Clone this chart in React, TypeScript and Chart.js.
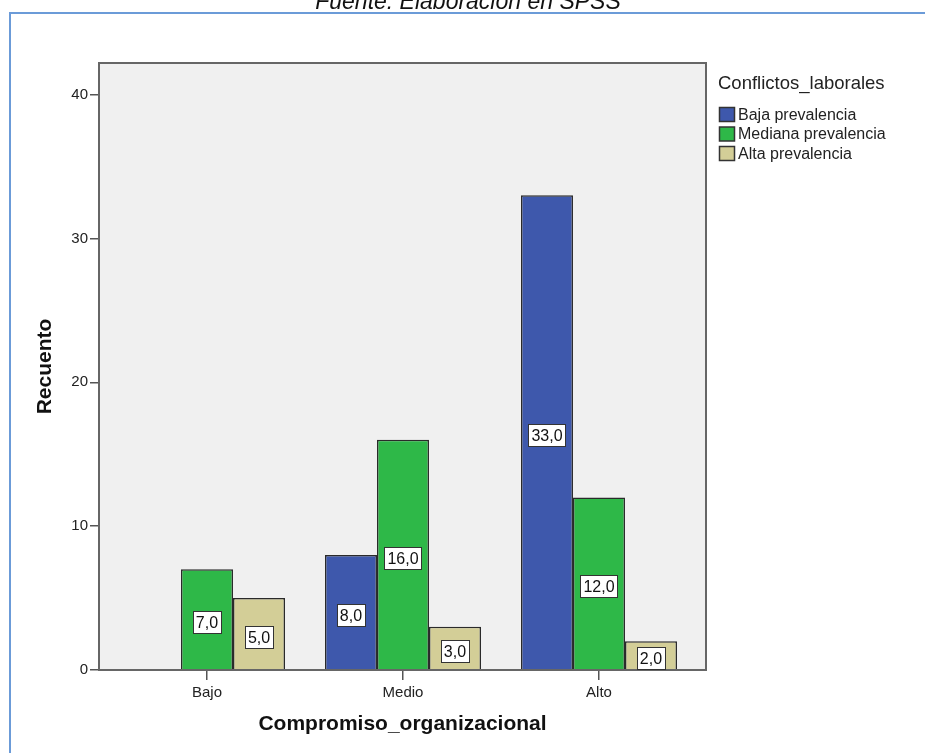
import { useEffect, useRef } from 'react';
import { Chart, registerables } from 'chart.js';

Chart.register(...registerables);

const categories = ['Bajo', 'Medio', 'Alto'];
const seriesNames = ['Baja prevalencia', 'Mediana prevalencia', 'Alta prevalencia'];
const bajaValues = [0, 8, 33];
const medianaValues = [7, 16, 12];
const altaValues = [5, 3, 2];
const yTicks = [0, 10, 20, 30, 40];
const chartTitle = 'Fuente: Elaboración en SPSS';
const legendTitle = 'Conflictos_laborales';
const xTitle = 'Compromiso_organizacional';
const yTitle = 'Recuento';

const seriesColors = ['#3e58ac', '#2eb848', '#d3ce97'];
const FONT = '"Liberation Sans", Arial, Helvetica, sans-serif';

const decorPlugin = {
  id: 'decor',
  beforeDraw(chart: any) {
    const ctx = chart.ctx;
    const a = chart.chartArea;
    ctx.save();
    ctx.fillStyle = '#ffffff';
    ctx.fillRect(0, 0, chart.width, chart.height);
    // outer blue frame
    ctx.strokeStyle = '#6b9bd8';
    ctx.lineWidth = 2;
    ctx.beginPath();
    ctx.moveTo(10, chart.height + 10);
    ctx.lineTo(10, 13);
    ctx.lineTo(chart.width + 10, 13);
    ctx.stroke();
    // caption (cut at top)
    ctx.fillStyle = '#111';
    ctx.font = `italic 23px ${FONT}`;
    ctx.textAlign = 'center';
    ctx.textBaseline = 'alphabetic';
    ctx.fillText(chartTitle, 468, 9);
    // plot background
    ctx.fillStyle = '#f0f0f0';
    ctx.fillRect(a.left, a.top, a.right - a.left, a.bottom - a.top);
    ctx.restore();
  },
  afterDatasetsDraw(chart: any) {
    const ctx = chart.ctx;
    const a = chart.chartArea;
    ctx.save();
    // plot border
    ctx.strokeStyle = '#666';
    ctx.lineWidth = 2;
    ctx.strokeRect(a.left, a.top, a.right - a.left, a.bottom - a.top);
    // value labels
    chart.data.datasets.forEach((ds: any, di: number) => {
      const meta = chart.getDatasetMeta(di);
      meta.data.forEach((el: any, i: number) => {
        const v = ds.data[i].y;
        if (!v) return;
        const p = el.getProps(['x', 'y', 'base'], true);
        const cy = (p.y + p.base) / 2 + 3;
        const text = v.toFixed(1).replace('.', ',');
        ctx.font = `16px ${FONT}`;
        const w = Math.round(ctx.measureText(text).width + 6);
        const h = 22;
        const bx = Math.round(p.x - w / 2) + 0.5;
        const by = Math.round(cy - h / 2) + 0.5;
        ctx.fillStyle = '#ffffff';
        ctx.fillRect(bx, by, w, h);
        ctx.strokeStyle = '#333';
        ctx.lineWidth = 1;
        ctx.strokeRect(bx, by, w, h);
        ctx.fillStyle = '#111';
        ctx.textAlign = 'center';
        ctx.textBaseline = 'middle';
        ctx.fillText(text, p.x, by + h / 2 + 1);
      });
    });
    ctx.restore();
  },
  afterDraw(chart: any) {
    const ctx = chart.ctx;
    ctx.save();
    ctx.textAlign = 'left';
    ctx.textBaseline = 'middle';
    ctx.fillStyle = '#222';
    ctx.font = `18.5px ${FONT}`;
    ctx.fillText(legendTitle, 718, 84);
    chart.data.datasets.forEach((ds: any, i: number) => {
      const cy = 114.5 + i * 19.5;
      ctx.fillStyle = ds.backgroundColor;
      ctx.fillRect(719.5, cy - 7, 15, 14);
      ctx.strokeStyle = '#333';
      ctx.lineWidth = 1.5;
      ctx.strokeRect(719.5, cy - 7, 15, 14);
      ctx.fillStyle = '#222';
      ctx.font = `16px ${FONT}`;
      ctx.fillText(ds.label, 738, cy + 1);
    });
    ctx.restore();
  },
};

export default function App() {
  const ref = useRef<HTMLCanvasElement | null>(null);

  useEffect(() => {
    if (!ref.current) return;
    const seriesValues = [bajaValues, medianaValues, altaValues];
    const chart = new Chart(ref.current, {
      type: 'bar',
      data: {
        datasets: seriesNames.map((name, si) => ({
          label: name,
          data: seriesValues[si].map((v, i) => ({ x: i, y: v })),
          backgroundColor: seriesColors[si],
          borderColor: '#2a2a2a',
          borderWidth: 1.5,
          categoryPercentage: 0.796,
          barPercentage: 1,
        })),
      },
      options: {
        animation: false,
        responsive: false,
        devicePixelRatio: 1,
        events: [],
        layout: { padding: { top: 63, right: 219, left: 0, bottom: 0 } },
        plugins: {
          legend: { display: false },
          tooltip: { enabled: false },
          title: { display: false },
        },
        scales: {
          x: {
            type: 'linear',
            offset: false,
            min: -0.551,
            max: 2.546,
            afterBuildTicks: (s: any) => {
              s.ticks = categories.map((_, i) => ({ value: i }));
            },
            afterFit: (s: any) => {
              s.height = 83;
            },
            grid: {
              display: true,
              offset: false,
              drawOnChartArea: false,
              drawTicks: true,
              tickLength: 10,
              color: '#555',
              lineWidth: 1.5,
            },
            border: { display: false },
            ticks: {
              callback: (v: any) => categories[v as number],
              font: { family: FONT, size: 15 },
              color: '#222',
              padding: 4,
              autoSkip: false,
              maxRotation: 0,
            },
            title: {
              display: true,
              text: xTitle,
              font: { family: FONT, size: 21, weight: 'bold' },
              color: '#111',
              padding: { top: 0, bottom: 16.4 },
            },
          },
          y: {
            type: 'linear',
            min: 0,
            max: 42.2,
            afterBuildTicks: (s: any) => {
              s.ticks = yTicks.map((v) => ({ value: v }));
            },
            afterFit: (s: any) => {
              s.width = 99;
            },
            grid: {
              display: true,
              drawOnChartArea: false,
              drawTicks: true,
              tickLength: 9,
              color: '#555',
              lineWidth: 1.5,
            },
            border: { display: false },
            ticks: {
              font: { family: FONT, size: 15 },
              color: '#222',
              padding: 2,
            },
            title: {
              display: true,
              text: yTitle,
              font: { family: FONT, size: 21, weight: 'bold' },
              color: '#111',
              padding: { top: 32.4, bottom: 0 },
            },
          },
        },
      },
      plugins: [decorPlugin],
    } as any);
    return () => chart.destroy();
  }, []);

  return (
    <div style={{ position: 'fixed', left: 0, top: 0, width: 925, height: 753 }}>
      <canvas ref={ref} width={925} height={753} style={{ display: 'block', width: 925, height: 753 }} />
    </div>
  );
}
